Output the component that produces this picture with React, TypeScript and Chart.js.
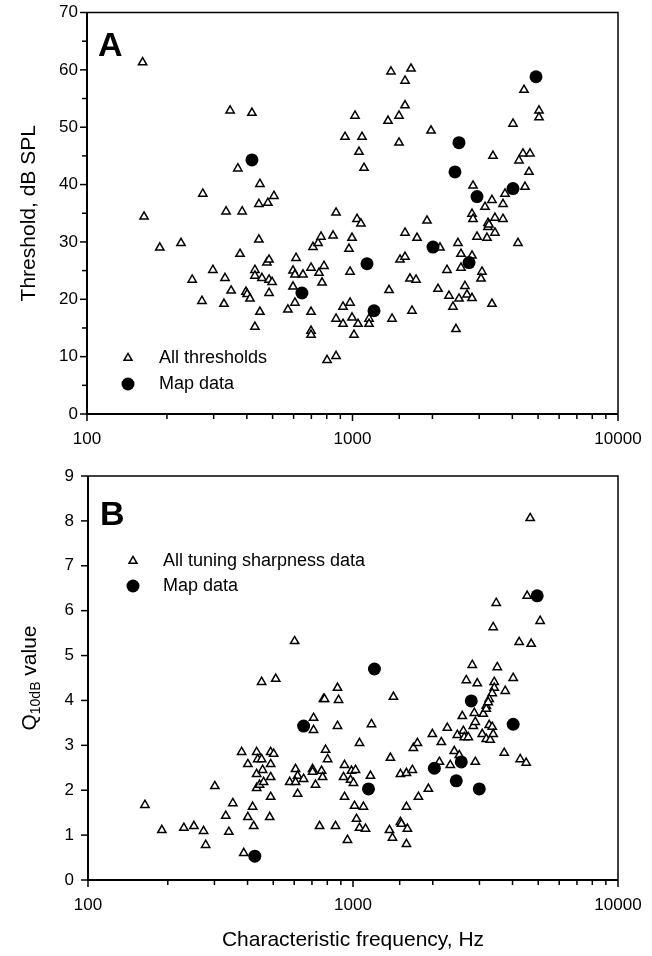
import React, { useEffect, useRef } from 'react';
import { Chart, registerables } from 'chart.js';

Chart.register(...registerables);

const FONT = '"Liberation Sans", Arial, Helvetica, sans-serif';

// ---- Panel A: thresholds ----
const thrAllFreq = [
  162, 346, 418, 370, 448, 273, 444, 480, 506, 334, 384, 164,
  1396, 1661, 1577, 1577, 1497, 1361, 1022, 937, 1086, 1058, 1105, 1497, 1976,
  4426, 5040, 5040, 4022, 3381, 4387, 4662, 4237, 4622, 2844, 4464, 3753, 3352, 3155, 3689,
  867, 1040, 1076, 1908, 2819, 2844, 3238, 3440, 3689,
  188, 226, 249, 271, 298, 328, 331, 349, 377, 397, 401, 411, 429, 429, 444, 456, 448, 429,
  476, 485, 485, 498, 485, 613, 597, 607, 651, 597, 607, 571,
  698, 710, 742, 761, 748, 781, 768, 698, 698, 698, 802,
  845, 996, 970, 979, 921, 979, 867, 921, 996, 1049, 1013, 1154, 1154, 867,
  1577, 1750, 2136, 2496, 2944, 3210, 3238, 3440, 4201,
  1510, 1577, 1373, 1646, 1735, 2269, 2562, 2819, 2562, 3074, 3048,
  2099, 2309, 2652, 2699, 2518, 2819, 2390, 3352, 1409, 1675, 2453, 3266,
];
const thrAllDb = [
  61.3, 52.9, 52.5, 42.8, 40.1, 38.4, 36.6, 36.8, 38.0, 35.3, 35.3, 34.4,
  59.7, 60.2, 58.1, 53.8, 52.0, 51.1, 52.0, 48.3, 48.3, 45.7, 42.9, 47.3, 49.4,
  56.5, 52.9, 51.7, 50.6, 45.0, 45.4, 45.4, 44.2, 42.2, 39.8, 39.6, 38.4, 37.3, 36.1, 36.6,
  35.1, 34.0, 33.2, 33.7, 34.9, 34.0, 33.3, 34.2, 34.0,
  29.0, 29.8, 23.4, 19.7, 25.1, 19.2, 23.7, 21.5, 27.9, 21.3, 20.9, 20.1, 25.1, 24.1, 30.4, 23.7, 17.8, 15.2,
  26.4, 26.9, 23.4, 23.0, 21.1, 27.2, 25.0, 24.3, 24.3, 22.2, 19.4, 18.2,
  25.5, 29.1, 29.8, 30.9, 24.6, 25.8, 22.9, 17.8, 14.5, 13.8, 9.4,
  31.1, 30.7, 28.8, 24.8, 18.7, 19.4, 16.6, 15.7, 16.8, 15.7, 13.8, 16.6, 15.7, 10.1,
  31.6, 30.7, 29.0, 29.8, 30.9, 30.7, 32.6, 31.6, 29.8,
  26.9, 27.4, 21.6, 23.6, 23.4, 25.1, 27.9, 27.6, 25.5, 24.8, 23.6,
  21.8, 20.6, 22.3, 20.8, 20.1, 20.2, 18.7, 19.2, 16.6, 18.0, 14.8, 33.0,
];
const thrMapFreq = [418, 4911, 2518, 2432, 4022, 2944, 2010, 2747, 1134, 1205, 645];
const thrMapDb = [44.3, 58.8, 47.3, 42.2, 39.3, 37.9, 29.1, 26.4, 26.2, 18.0, 21.1];

// ---- Panel B: Q10dB ----
const q10AllFreq = [
  602, 452, 511, 774, 4662, 4542, 3471, 5084, 3381, 4237, 4703,
  2819, 3502, 2676, 2944, 3412, 4022, 3753, 3412, 3352, 3266, 3183,
  874, 781, 882, 1421,
  164, 190, 230, 251, 273, 278, 301, 331, 340, 352, 380, 401, 387, 401, 418, 422,
  433, 437, 452, 433, 456, 433, 444, 460, 489, 502, 489, 489, 489, 485,
  577, 607, 618, 607, 651, 618, 704, 704, 722, 761, 768, 748, 710, 710, 788, 802,
  874, 1174, 1058, 929, 987, 1022, 921, 979, 1004, 1164, 929, 1013, 1095, 1031, 1058, 1115, 859, 953,
  1384, 1510, 1591, 1675, 1591, 1373, 1510, 1523, 1604, 1409, 1591,
  1690, 1750, 1765, 1925, 1993, 2154, 2118, 2269, 2329, 2411, 2475, 2518, 2608, 2630, 2723,
  2585, 2869, 2844, 2894, 2894, 3101, 3183, 3074, 3183, 3266, 3352, 3295, 3381, 3238,
  3721, 4275, 4503,
];
const q10AllValue = [
  5.32, 4.41, 4.48, 4.03, 8.06, 6.33, 6.17, 5.77, 5.63, 5.30, 5.26,
  4.79, 4.74, 4.45, 4.38, 4.41, 4.50, 4.21, 4.28, 4.16, 4.03, 3.88,
  4.28, 4.03, 4.01, 4.08,
  1.67, 1.11, 1.16, 1.20, 1.09, 0.78, 2.09, 1.43, 1.07, 1.71, 2.85, 2.58, 0.60, 1.40, 1.63, 1.20,
  2.85, 2.69, 2.69, 2.36, 2.45, 2.05, 2.12, 2.18, 2.85, 2.81, 2.58, 2.29, 1.85, 1.40,
  2.18, 2.47, 2.32, 2.18, 2.25, 1.92, 2.47, 2.41, 2.12, 2.43, 2.29, 1.20, 3.61, 3.34, 2.90, 2.69,
  3.43, 3.47, 3.05, 2.56, 2.43, 2.45, 2.29, 2.23, 2.16, 2.32, 1.85, 1.65, 1.63, 1.36, 1.16, 1.14, 1.20, 0.89,
  2.72, 2.36, 2.38, 2.45, 1.63, 1.11, 1.29, 1.25, 1.14, 0.94, 0.80,
  2.94, 3.05, 1.85, 2.03, 3.25, 3.07, 2.63, 3.39, 2.56, 2.87, 3.23, 2.78, 3.32, 3.18, 3.18,
  3.65, 3.72, 3.43, 3.52, 2.63, 3.70, 3.81, 3.25, 3.14, 3.45, 3.41, 3.12, 3.25, 3.96,
  2.83, 2.69, 2.61,
];
const q10MapFreq = [426, 651, 1205, 4955, 2794, 4022, 2562, 2028, 2453, 2996, 1144];
const q10MapValue = [0.53, 3.43, 4.70, 6.33, 3.99, 3.47, 2.63, 2.49, 2.21, 2.03, 2.03];

const xTickLabels = [100, 1000, 10000];

type Rect = { left: number; top: number; right: number; bottom: number };

type PanelCfg = {
  height: number;
  allX: number[]; allY: number[]; mapX: number[]; mapY: number[];
  yMax: number; yStep: number; isMajorY: (v: number) => boolean;
  yWidth: number; xHeight: number; area: Rect; yPad: number; xPad: number;
  yTitle: string | null; xTitle: string | null;
  letter: string; letterX: number; letterY: number;
  legAll: string; legX: number; legY1: number; legY2: number; legTextX: number;
  customQTitle: boolean;
};

function drawTri(ctx: CanvasRenderingContext2D, x: number, y: number, r: number) {
  ctx.beginPath();
  ctx.moveTo(x, y - r);
  ctx.lineTo(x + 0.866 * r, y + 0.5 * r);
  ctx.lineTo(x - 0.866 * r, y + 0.5 * r);
  ctx.closePath();
  ctx.fillStyle = '#fff';
  ctx.fill();
  ctx.stroke();
}

function makePlugin(p: PanelCfg) {
  return {
    id: 'decor',
    afterDraw(chart: any) {
      const { ctx, chartArea: a, scales } = chart;
      ctx.save();
      ctx.strokeStyle = '#000';
      ctx.fillStyle = '#000';
      ctx.lineWidth = 1.5;
      ctx.beginPath();
      ctx.moveTo(a.left, a.top); ctx.lineTo(a.right, a.top); ctx.lineTo(a.right, a.bottom);
      ctx.stroke();
      ctx.lineWidth = 2;
      ctx.beginPath();
      ctx.moveTo(a.left, a.top); ctx.lineTo(a.left, a.bottom); ctx.lineTo(a.right, a.bottom);
      ctx.stroke();
      // ticks
      ctx.lineWidth = 1.5;
      const xs = scales.x;
      xs.ticks.forEach((t: any) => {
        const px = xs.getPixelForValue(t.value);
        const major = xTickLabels.includes(t.value);
        ctx.beginPath();
        ctx.moveTo(px, a.bottom);
        ctx.lineTo(px, a.bottom + (major ? 7 : 5));
        ctx.stroke();
      });
      const ys = scales.y;
      ys.ticks.forEach((t: any) => {
        const py = ys.getPixelForValue(t.value);
        const major = p.isMajorY(t.value);
        ctx.beginPath();
        ctx.moveTo(a.left, py);
        ctx.lineTo(a.left - (major ? 7 : 5), py);
        ctx.stroke();
      });
      // panel letter
      ctx.font = `bold 34px ${FONT}`;
      ctx.textBaseline = 'alphabetic';
      ctx.textAlign = 'left';
      ctx.fillText(p.letter, p.letterX, p.letterY);
      // legend
      ctx.lineWidth = 1.5;
      drawTri(ctx, p.legX, p.legY1, 4.6);
      ctx.fillStyle = '#000';
      ctx.beginPath();
      ctx.arc(p.legX, p.legY2, 6.5, 0, Math.PI * 2);
      ctx.fill();
      ctx.font = `18px ${FONT}`;
      ctx.textBaseline = 'middle';
      ctx.fillText(p.legAll, p.legTextX, p.legY1);
      ctx.fillText('Map data', p.legTextX, p.legY2);
      // Q10dB title
      if (p.customQTitle) {
        const cy = (a.top + a.bottom) / 2;
        ctx.translate(30, cy);
        ctx.rotate(-Math.PI / 2);
        ctx.textBaseline = 'middle';
        const big = `21px ${FONT}`;
        const small = `14px ${FONT}`;
        ctx.font = big; const wQ = ctx.measureText('Q').width;
        ctx.font = small; const wS = ctx.measureText('10dB').width;
        ctx.font = big; const wV = ctx.measureText(' value').width;
        let x0 = -(wQ + wS + wV) / 2;
        ctx.font = big; ctx.fillText('Q', x0, 0); x0 += wQ;
        ctx.font = small; ctx.fillText('10dB', x0, 6); x0 += wS;
        ctx.font = big; ctx.fillText(' value', x0, 0);
      }
      ctx.restore();
    },
  };
}

function Panel({ p, top }: { p: PanelCfg; top: number }) {
  const ref = useRef<HTMLCanvasElement | null>(null);
  useEffect(() => {
    if (!ref.current) return;
    const all = p.allX.map((x, i) => ({ x, y: p.allY[i] }));
    const map = p.mapX.map((x, i) => ({ x, y: p.mapY[i] }));
    const pad = { top: p.area.top, right: 652 - p.area.right, left: 0, bottom: 0 };
    const chart: any = new Chart(ref.current, {
      type: 'scatter',
      data: {
        datasets: [
          {
            label: 'Map data', data: map, pointStyle: 'circle', pointRadius: 6.5,
            backgroundColor: '#000', borderColor: '#000', borderWidth: 0, clip: false,
          },
          {
            label: p.legAll, data: all, pointStyle: 'triangle', pointRadius: 4.8,
            backgroundColor: '#fff', borderColor: '#000', borderWidth: 1.5, clip: false,
          },
        ],
      },
      options: {
        responsive: false,
        animation: false,
        events: [],
        devicePixelRatio: 1,
        layout: { autoPadding: false, padding: { ...pad } },
        plugins: { legend: { display: false }, tooltip: { enabled: false } },
        scales: {
          x: {
            type: 'logarithmic', min: 100, max: 10000, position: 'bottom',
            grid: { display: false, drawTicks: false },
            border: { display: false },
            ticks: {
              autoSkip: false, maxRotation: 0, minRotation: 0, padding: p.xPad,
              color: '#000', font: { family: FONT, size: 17 },
              callback: (v: any) => (xTickLabels.includes(Number(v)) ? String(v) : ''),
            },
            title: p.xTitle
              ? { display: true, text: p.xTitle, color: '#000', font: { family: FONT, size: 21 }, padding: { top: 0, bottom: 3 } }
              : { display: false },
            afterFit: (s: any) => { s.height = p.xHeight; s.paddingLeft = 0; s.paddingRight = 0; },
          },
          y: {
            type: 'linear', min: 0, max: p.yMax,
            grid: { display: false, drawTicks: false },
            border: { display: false },
            ticks: {
              stepSize: p.yStep, padding: p.yPad, color: '#000',
              font: { family: FONT, size: 17 },
              callback: (v: any) => (p.isMajorY(Number(v)) ? String(v) : ''),
            },
            title: p.yTitle
              ? { display: true, text: p.yTitle, color: '#000', font: { family: FONT, size: 21 }, padding: { top: 17, bottom: 0 } }
              : { display: false },
            afterFit: (s: any) => { s.width = p.yWidth; s.paddingTop = 0; s.paddingBottom = 0; },
          },
        },
      },
      plugins: [makePlugin(p)],
    } as any);
    // nudge the layout padding so the plot frame lands where the reference has it
    for (let k = 0; k < 3; k++) {
      const a = chart.chartArea;
      const dTop = p.area.top - a.top;
      const dRight = a.right - p.area.right;
      const dBottom = a.bottom - p.area.bottom;
      if (Math.abs(dTop) < 0.3 && Math.abs(dRight) < 0.3 && Math.abs(dBottom) < 0.3) break;
      pad.top = Math.max(0, pad.top + dTop);
      pad.right = Math.max(0, pad.right + dRight);
      pad.bottom = Math.max(0, pad.bottom + dBottom);
      chart.options.layout.padding = { ...pad };
      chart.update();
    }
    return () => chart.destroy();
  }, [p]);
  return (
    <canvas
      ref={ref}
      width={652}
      height={p.height}
      style={{ position: 'absolute', left: 0, top, width: 652, height: p.height, display: 'block' }}
    />
  );
}

const panelA: PanelCfg = {
  height: 460,
  allX: thrAllFreq, allY: thrAllDb, mapX: thrMapFreq, mapY: thrMapDb,
  yMax: 70, yStep: 5, isMajorY: (v) => v % 10 === 0,
  yWidth: 87, xHeight: 46, area: { left: 87, top: 12.5, right: 618, bottom: 414 }, yPad: 9, xPad: 15,
  yTitle: 'Threshold, dB SPL', xTitle: null,
  letter: 'A', letterX: 98, letterY: 56,
  legAll: 'All thresholds', legX: 128, legY1: 358, legY2: 384, legTextX: 159,
  customQTitle: false,
};

const panelB: PanelCfg = {
  height: 496,
  allX: q10AllFreq, allY: q10AllValue, mapX: q10MapFreq, mapY: q10MapValue,
  yMax: 9, yStep: 0.5, isMajorY: (v) => Math.abs(v - Math.round(v)) < 1e-6,
  yWidth: 88, xHeight: 76, area: { left: 88, top: 16, right: 618, bottom: 420 }, yPad: 14, xPad: 15,
  yTitle: null, xTitle: 'Characteristic frequency, Hz',
  letter: 'B', letterX: 100, letterY: 65,
  legAll: 'All tuning sharpness data', legX: 133, legY1: 101, legY2: 126, legTextX: 163,
  customQTitle: true,
};

export default function App() {
  return (
    <div style={{ position: 'absolute', left: 0, top: 0, width: 652, height: 956, background: '#fff' }}>
      <Panel p={panelA} top={0} />
      <Panel p={panelB} top={460} />
    </div>
  );
}
